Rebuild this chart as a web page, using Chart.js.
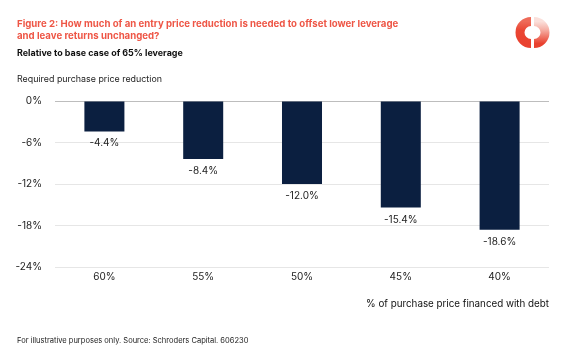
<!DOCTYPE html>
<html>
<head>
<meta charset="utf-8">
<script src="https://cdn.jsdelivr.net/npm/chart.js@4/dist/chart.umd.min.js"></script>
<style>
  html, body { margin: 0; padding: 0; background: #fff; }
  body { width: 567px; height: 361px; position: relative; overflow: hidden; font-family: "Inter", "Liberation Sans", sans-serif; }
  #wrap { position: absolute; left: 0; top: 0; width: 567px; height: 361px; }
  .t { position: absolute; white-space: nowrap; line-height: 1; }
  #title1, #title2 { color: #EE5646; font-weight: 700; left: 17px; }
  #sub { color: #111; font-weight: 700; left: 17px; }
  #ylab { color: #222; left: 17px; }
  #foot { color: #222; left: 17px; }
  #logo { position: absolute; left: 514px; top: 14px; }
</style>
</head>
<body>
<div id="wrap"><canvas id="c" width="567" height="361"></canvas></div>
<div class="t" id="title1" data-w="382" data-y="24" style="font-size:12px">Figure 2: How much of an entry price reduction is needed to offset lower leverage</div>
<div class="t" id="title2" data-y="36" style="font-size:12px">and leave returns unchanged?</div>
<div class="t" id="sub" data-w="166" data-y="53" style="font-size:11px">Relative to base case of 65% leverage</div>
<div class="t" id="ylab" data-w="145" data-y="79" style="font-size:11px">Required purchase price reduction</div>
<div class="t" id="foot" data-w="232" data-y="341" style="font-size:9px">For illustrative purposes only. Source: Schroders Capital. 606230</div>
<svg id="logo" width="38" height="38" viewBox="0 0 38 38">
  <defs>
    <linearGradient id="gR" x1="0" y1="0" x2="0" y2="1">
      <stop offset="0" stop-color="#FBE0DB"/>
      <stop offset="0.35" stop-color="#F6B3A9"/>
      <stop offset="1" stop-color="#E9412F"/>
    </linearGradient>
    <linearGradient id="gL" x1="0" y1="0" x2="0" y2="1">
      <stop offset="0" stop-color="#EE6A58"/>
      <stop offset="0.4" stop-color="#EA4633"/>
      <stop offset="1" stop-color="#E9412F"/>
    </linearGradient>
  </defs>
  <path d="M 17 7.5 A 11 11 0 0 0 17 29.5" fill="none" stroke="url(#gL)" stroke-width="9"/>
  <path d="M 20 7.5 A 11 11 0 0 1 20 29.5" fill="none" stroke="url(#gR)" stroke-width="9"/>
</svg>
<script>
// ---- data ----
const categories = ["60%", "55%", "50%", "45%", "40%"];
const priceReduction = [-4.4, -8.4, -12.0, -15.4, -18.6];
const yTicks = [0, -6, -12, -18, -24];
const xAxisTitle = "% of purchase price financed with debt";

// fit html text widths and vertical centers
document.querySelectorAll('.t').forEach(el => {
  const w = parseFloat(el.dataset.w || 0);
  if (w) {
    const fs = parseFloat(el.style.fontSize);
    const actual = el.getBoundingClientRect().width;
    el.style.fontSize = (fs * w / actual).toFixed(2) + 'px';
  }
});
const t1 = document.getElementById('title1');
document.getElementById('title2').style.fontSize = t1.style.fontSize;
document.querySelectorAll('.t').forEach(el => {
  const y = parseFloat(el.dataset.y);
  const h = el.getBoundingClientRect().height;
  el.style.top = (y - h / 2) + 'px';
});

const FONT = "Inter, 'Liberation Sans', sans-serif";

const barLabels = {
  id: 'barLabels',
  afterDatasetsDraw(chart) {
    const ctx = chart.ctx;
    const meta = chart.getDatasetMeta(0);
    ctx.save();
    ctx.font = "10px " + FONT;
    ctx.fillStyle = '#222';
    ctx.textAlign = 'center';
    ctx.textBaseline = 'middle';
    meta.data.forEach((bar, i) => {
      const v = chart.data.datasets[0].data[i];
      ctx.fillText(v.toFixed(1) + '%', bar.x, bar.y + 12);
    });
    ctx.restore();
  }
};

new Chart(document.getElementById('c'), {
  type: 'bar',
  data: {
    labels: categories,
    datasets: [{
      data: priceReduction,
      backgroundColor: '#0B1F40',
      borderWidth: 0,
      categoryPercentage: 1,
      barPercentage: 0.405
    }]
  },
  options: {
    responsive: false,
    animation: false,
    layout: { padding: { left: 0, right: 18, top: 101, bottom: 50 } },
    plugins: { legend: { display: false }, tooltip: { enabled: false } },
    scales: {
      x: {
        grid: { display: false, drawTicks: false },
        border: { display: false },
        ticks: { color: '#222', font: { family: FONT, size: 10 }, padding: 4 },
        title: {
          display: true, text: xAxisTitle, align: 'end', color: '#111',
          font: { family: FONT, size: 9.8 }, padding: { top: 0, bottom: 1 }
        },
        afterFit(s) { s.height = 44; }
      },
      y: {
        min: -24, max: 0,
        afterBuildTicks(s) { s.ticks = yTicks.map(v => ({ value: v })); },
        grid: {
          drawTicks: false,
          color: c => (c.tick && c.tick.value === 0) ? '#BDBDBD' : '#E6E6E6',
          lineWidth: 1
        },
        border: { display: false },
        ticks: {
          color: '#222', font: { family: FONT, size: 10 }, padding: 13,
          callback: v => v + '%'
        },
        afterFit(s) { s.width = 55; }
      }
    }
  },
  plugins: [barLabels]
});
</script>
</body>
</html>
